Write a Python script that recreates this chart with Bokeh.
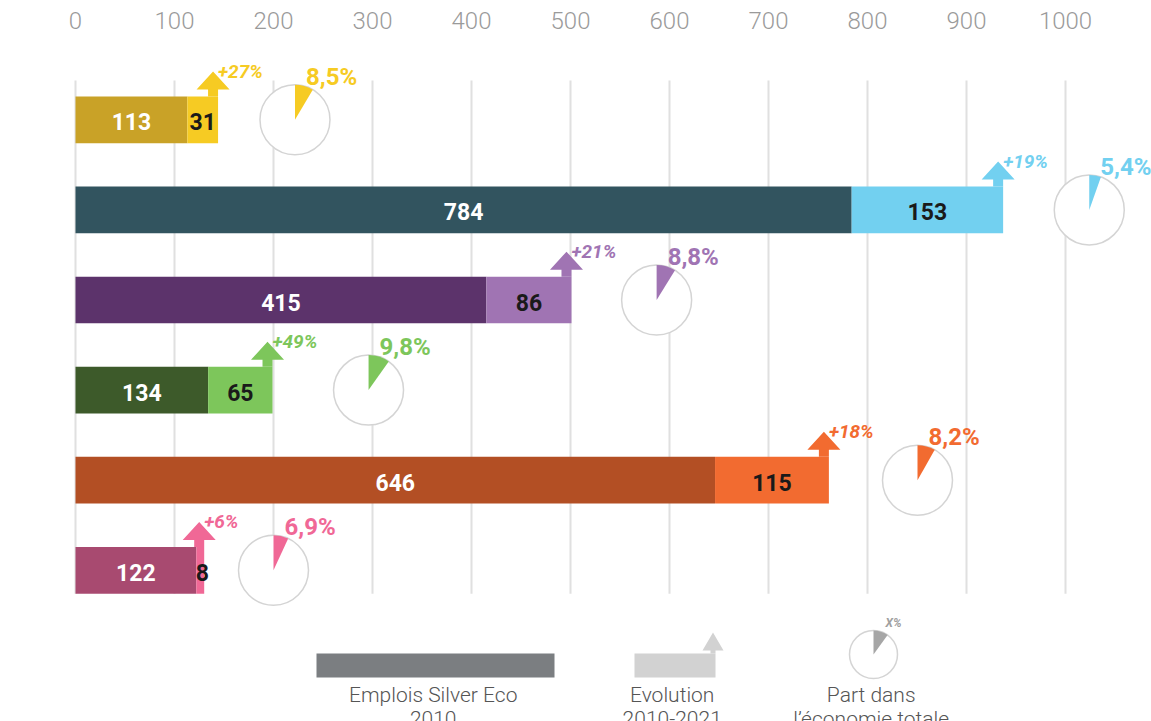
import math
from bokeh.plotting import figure
from bokeh.models import Range1d, FixedTicker
from bokeh.core.properties import value
from bokeh.embed import file_html
from bokeh.resources import INLINE

# ---------------- data ----------------
base_2010 = [113, 784, 415, 134, 646, 122]
growth = [31, 153, 86, 65, 115, 8]
growth_pct = ["+27%", "+19%", "+21%", "+49%", "+18%", "+6%"]
share = [8.5, 5.4, 8.8, 9.8, 8.2, 6.9]
share_labels = ["8,5%", "5,4%", "8,8%", "9,8%", "8,2%", "6,9%"]
tick_values = [0, 100, 200, 300, 400, 500, 600, 700, 800, 900, 1000]
legend_texts = [["Emplois Silver Eco", "2010"], ["Evolution", "2010-2021"], ["Part dans", "l\u2019\u00e9conomie totale"]]
legend_share = 10

# ---------------- style / layout ----------------
base_colors = ["#C9A227", "#32545F", "#5C336B", "#3D5A2A", "#B34F24", "#A84A70"]
inc_colors = ["#F6CB23", "#72D0F0", "#A074B3", "#7DC65B", "#F26B30", "#F06896"]
pie_x = [221.7, 1024, 587, 296, 850.5, 200]   # layout positions of the pies

W, H = 1151, 721
PXX = 1 / 0.99      # x data units per pixel
PXY = 1 / 90.1      # y data units per pixel
T = 36              # frame top (px)
row0 = 119.3
x0 = -75 * PXX
y_top = -(row0 - T) * PXY
y_bot = (H - row0) * PXY

p = figure(width=W, height=H, output_backend="svg", toolbar_location=None,
           x_axis_location="above", y_axis_location=None,
           x_range=Range1d(x0, x0 + W * PXX), y_range=Range1d(y_bot, y_top),
           min_border_left=0, min_border_right=0, min_border_bottom=0, min_border_top=T)
p.outline_line_color = None
p.xgrid.grid_line_color = None
p.ygrid.grid_line_color = None
ax = p.xaxis[0]
ax.ticker = FixedTicker(ticks=tick_values)
ax.axis_line_color = None
ax.major_tick_line_color = None
ax.minor_tick_line_color = None
ax.major_tick_out = 0
ax.major_tick_in = 0
ax.major_label_standoff = 8
ax.major_label_text_font = "Roboto Light"
ax.major_label_text_font_size = "24px"
ax.major_label_text_color = "#9a9a9a"

rows = list(range(len(base_2010)))
totals = [b + g for b, g in zip(base_2010, growth)]
half_h = 0.259

# gridlines
p.segment(x0=tick_values, x1=tick_values, y0=[-(row0 - 80) * PXY] * len(tick_values),
          y1=[5 + half_h] * len(tick_values), line_color="#e0e0e0", line_width=2)

# bars
p.hbar(y=rows, left=0, right=base_2010, height=2 * half_h, fill_color=base_colors, line_color=None)
p.hbar(y=rows, left=base_2010, right=totals, height=2 * half_h, fill_color=inc_colors, line_color=None)

# arrows
xs, ys = [], []
for i, e in enumerate(totals):
    top = i - half_h
    hb = top - 7 * PXY
    tip = top - 25 * PXY
    c = e - 5 * PXX
    xs.append([e - 10 * PXX, e - 10 * PXX, c - 16.5 * PXX, c, c + 16.5 * PXX, e, e])
    ys.append([top, hb, hb, tip, hb, hb, top])
p.patches(xs=xs, ys=ys, fill_color=inc_colors, line_color=None)

# value labels
font = value("Roboto")
p.text(x=[b / 2 for b in base_2010], y=[r + 2 * PXY for r in rows], text=[str(b) for b in base_2010],
       text_font=font, text_font_style="bold", text_font_size="23px", text_color="white",
       text_align="center", text_baseline="middle")
p.text(x=[b + g / 2 + (2 if g < 20 else 0) * PXX for b, g in zip(base_2010, growth)],
       y=[r + 2 * PXY for r in rows], text=[str(g) for g in growth],
       text_font=font, text_font_style="bold", text_font_size="23px", text_color="#1a1a1a",
       text_align="center", text_baseline="middle")
p.text(x=totals, y=[r - half_h - 25 * PXY for r in rows], text=growth_pct,
       text_font=font, text_font_style="bold italic", text_font_size="19px", text_color=inc_colors,
       text_align="left", text_baseline="alphabetic")

# pies
R = 35
p.circle(x=pie_x, y=rows, radius=R, radius_units="screen", fill_color="white",
         line_color="#d4d4d4", line_width=1.5)
p.wedge(x=pie_x, y=rows, radius=R, radius_units="screen", start_angle=math.pi / 2,
        end_angle=[math.pi / 2 - s / 100 * 2 * math.pi for s in share], direction="clock",
        fill_color=inc_colors, line_color=None)
p.text(x=[px + 11 * PXX for px in pie_x], y=[r - (R + 8) * PXY for r in rows], text=share_labels,
       text_font=font, text_font_style="bold", text_font_size="24px", text_color=inc_colors,
       text_align="left", text_baseline="alphabetic")

# legend
leg_y = (665 - row0) * PXY
leg_h = 24 * PXY
p.hbar(y=[leg_y], left=[(316 - 75) * PXX], right=[(554 - 75) * PXX], height=leg_h,
       fill_color="#7b7e81", line_color=None)
ev_l, ev_r = (634 - 75) * PXX, (715 - 75) * PXX
p.hbar(y=[leg_y], left=[ev_l], right=[ev_r], height=leg_h, fill_color="#d2d2d2", line_color=None)
ltop = leg_y - leg_h / 2
lhb = ltop - 3 * PXY
ltip = ltop - 21 * PXY
lc = ev_r - 2.5 * PXX
p.patch(x=[ev_r - 5 * PXX, ev_r - 5 * PXX, lc - 10.5 * PXX, lc, lc + 10.5 * PXX, ev_r, ev_r],
        y=[ltop, lhb, lhb, ltip, lhb, lhb, ltop], fill_color="#d2d2d2", line_color=None)
lp_x, lp_y = (873 - 75) * PXX, (654 - row0) * PXY
p.circle(x=[lp_x], y=[lp_y], radius=24, radius_units="screen", fill_color="white",
         line_color="#d4d4d4", line_width=1.5)
p.wedge(x=[lp_x], y=[lp_y], radius=24, radius_units="screen", start_angle=math.pi / 2,
        end_angle=math.pi / 2 - legend_share / 100 * 2 * math.pi, direction="clock",
        fill_color="#a6a6a6", line_color=None)
p.text(x=[lp_x + 12 * PXX], y=[(622 - row0) * PXY], text=["X%"], text_font=font,
       text_font_style="bold italic", text_font_size="12px", text_color="#a0a0a0",
       text_align="left", text_baseline="alphabetic")
leg_cx = [(432.7 - 75) * PXX, (671.7 - 75) * PXX, (870.7 - 75) * PXX]
for k, lines in enumerate(legend_texts):
    for j, line in enumerate(lines):
        p.text(x=[leg_cx[k]], y=[(694 + 24 * j - row0) * PXY], text=[line],
               text_font=value("Roboto Light"), text_font_size="21px", text_color="#555555",
               text_align="center", text_baseline="alphabetic")

open("out.html", "w").write(file_html(p, INLINE))
